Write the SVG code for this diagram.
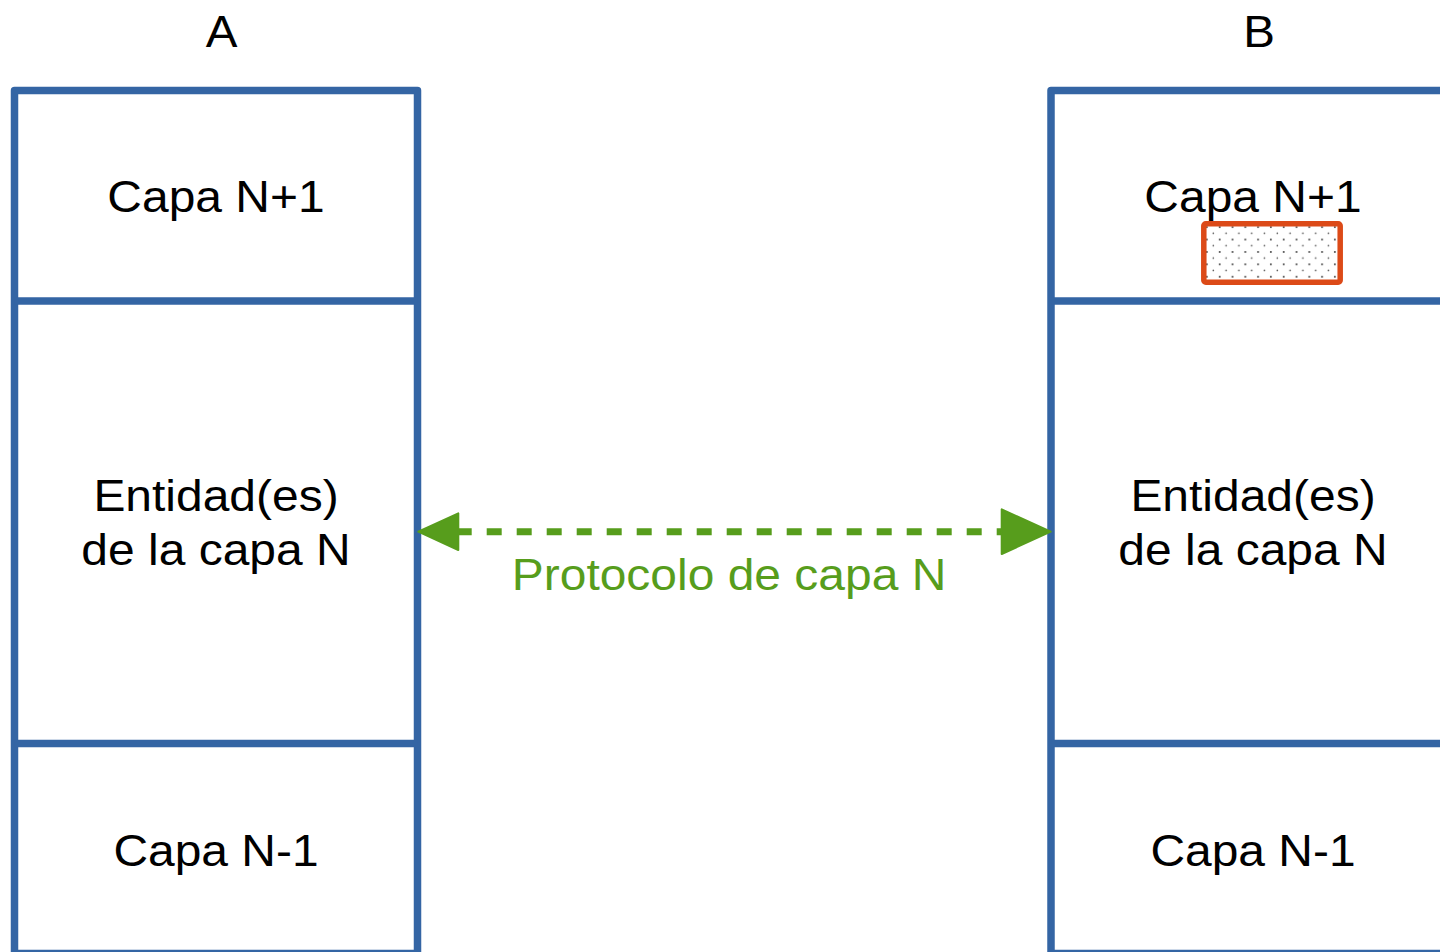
<svg xmlns="http://www.w3.org/2000/svg" width="1440" height="952" viewBox="0 0 1440 952">
<style>
.box{fill:#ffffff;stroke:#3465a4;stroke-width:7.5;stroke-linejoin:round}
.div{stroke:#3465a4;stroke-width:7.5;fill:none}
.t{font-family:"Liberation Sans",Arial,sans-serif;font-size:44px;fill:#000000;text-anchor:middle}
.g{fill:#579d1c}
</style>
<defs>
<pattern id="dots" patternUnits="userSpaceOnUse" x="1210" y="230" width="12.8" height="12.4">
<circle cx="3.3" cy="3.3" r="0.8" fill="#555"/>
<circle cx="9.7" cy="9.5" r="1" fill="#444"/>
</pattern>
</defs>
<rect width="1440" height="952" fill="#ffffff"/>
<g id="labelA"><text class="t" transform="translate(221.5,46.5) scale(1.08,1)">A</text></g>
<g id="labelB"><text class="t" transform="translate(1259,46.5) scale(1.08,1)">B</text></g>
<g id="stackA">
<rect class="box" x="14.5" y="90.5" width="403" height="863"/>
<line class="div" x1="14.5" y1="301" x2="417.5" y2="301"/>
<line class="div" x1="14.5" y1="743.5" x2="417.5" y2="743.5"/>
<text class="t" transform="translate(216,211.5) scale(1.09,1)">Capa N+1</text>
<text class="t" transform="translate(216,511) scale(1.09,1)">Entidad(es)</text>
<text class="t" transform="translate(216,565) scale(1.09,1)">de la capa N</text>
<text class="t" transform="translate(216,866) scale(1.09,1)">Capa N-1</text>
</g>
<g id="stackB">
<rect class="box" x="1051" y="90.5" width="403" height="863"/>
<line class="div" x1="1051" y1="301" x2="1454" y2="301"/>
<line class="div" x1="1051" y1="743.5" x2="1454" y2="743.5"/>
<text class="t" transform="translate(1253,211.5) scale(1.09,1)">Capa N+1</text>
<text class="t" transform="translate(1253,511) scale(1.09,1)">Entidad(es)</text>
<text class="t" transform="translate(1253,565) scale(1.09,1)">de la capa N</text>
<text class="t" transform="translate(1253,866) scale(1.09,1)">Capa N-1</text>
</g>
<g id="marked">
<rect x="1203.8" y="223.8" width="136.4" height="58.4" rx="2" fill="url(#dots)" stroke="#dc4a18" stroke-width="5.5"/>
</g>
<g id="connectors">
<line x1="456.7" y1="531.7" x2="1003" y2="531.7" stroke="#579d1c" stroke-width="7" stroke-dasharray="15 15"/>
<polygon points="418.3,531.7 458.3,513.3 458.3,550" fill="#579d1c" stroke="#579d1c" stroke-width="2" stroke-linejoin="round"/>
<polygon points="1050.7,531.7 1001.7,509.3 1001.7,554" fill="#579d1c" stroke="#579d1c" stroke-width="2" stroke-linejoin="round"/>
<text class="t g" transform="translate(729,590) scale(1.09,1)">Protocolo de capa N</text>
</g>
</svg>
